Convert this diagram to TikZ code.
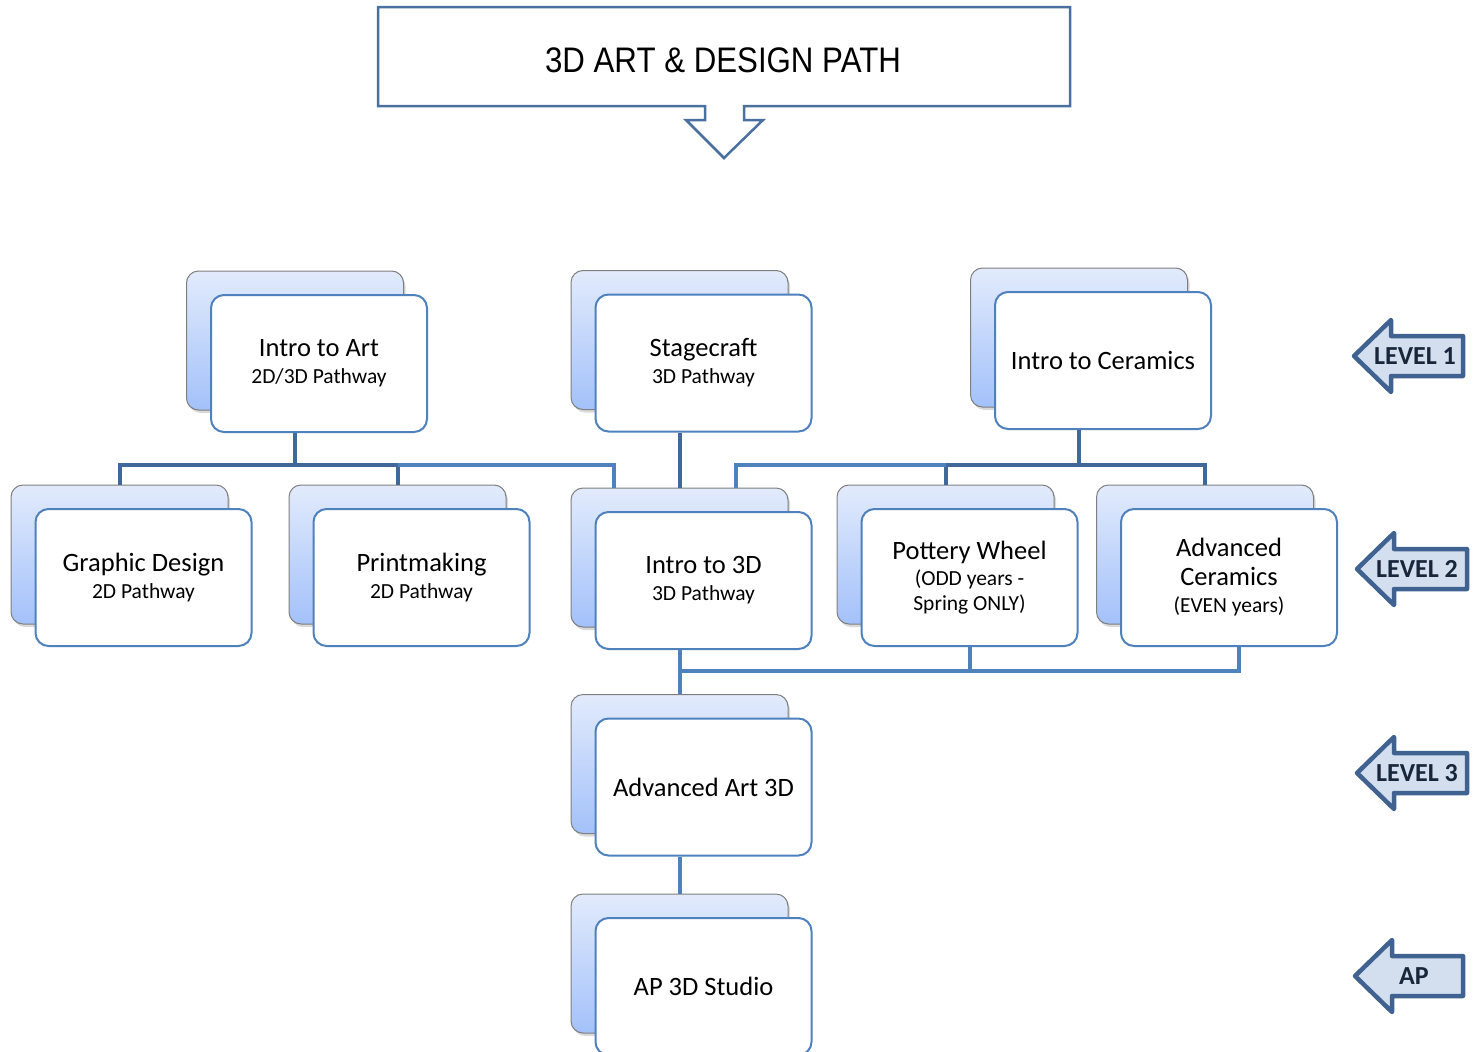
\documentclass[tikz,border=0pt]{standalone}
\usepackage{fontspec}
\setmainfont{Carlito}
\newfontfamily\titlefont[FakeStretch=0.88]{Liberation Sans}
\usetikzlibrary{shadows,calc}

\definecolor{frontline}{HTML}{4F81BD}
\definecolor{darklink}{HTML}{41689A}
\definecolor{lightlink}{HTML}{4F81BD}
\definecolor{backtop}{HTML}{E2EBFC}
\definecolor{backbottom}{HTML}{A3C1FA}
\definecolor{backline}{HTML}{7F7F7F}
\definecolor{tagfill}{HTML}{D3DFEE}
\definecolor{tagline}{HTML}{3F6290}
\definecolor{tagink}{HTML}{17263A}
\definecolor{titleline}{HTML}{4A70A0}

\newcommand\mainsz{\fontsize{26.5}{28}\selectfont}
\newcommand\subsz{\fontsize{21.5}{25}\selectfont}

% a course card: shaded back panel with a white card in front of it
\newcommand\card[4]{%
  \node[backcard] (#1-b) at (#2,#3) {};
  \node[frontcard] (#1) at ($(#1-b)+(24,23)$) {#4};
}
% a level marker: arrow pointing left with a bold label
\newcommand\leveltag[6]{%
  \draw[tagshape] (#2,#3) -- (#2+37,#3-36) -- (#2+37,#3-20) -- (#4,#3-20)
     -- (#4,#3+20) -- (#2+37,#3+20) -- (#2+37,#3+36) -- cycle;
  \node[taglabel] (#1) at (#5,#3) {#6};
}

\begin{document}
\begin{tikzpicture}[x=1pt,y=-1pt,
  backcard/.style={draw=backline, line width=1pt, rounded corners=12pt,
    top color=backtop, bottom color=backbottom,
    minimum width=217pt, minimum height=139pt, inner sep=0pt,
    drop shadow={shadow xshift=2pt, shadow yshift=-3pt, opacity=0.3}},
  frontcard/.style={draw=frontline, line width=2pt, fill=white,
    rounded corners=13pt, minimum width=216pt, minimum height=137pt,
    inner sep=0pt, align=center, font=\mainsz},
  link/.style={draw=darklink, line width=4pt},
  linklight/.style={draw=lightlink, line width=4pt},
  tagshape/.style={draw=tagline, fill=tagfill, line width=4.5pt, line join=round},
  taglabel/.style={font=\fontsize{26}{28}\selectfont\bfseries, text=tagink, inner sep=0pt},
]
\useasboundingbox (0,0) rectangle (1481,1052);

% title banner with its downward arrow
\draw[draw=titleline, line width=2.5pt, fill=white]
  (378,7) -- (1070,7) -- (1070,106) -- (744,106) -- (744,120) -- (763,120)
  -- (724,158) -- (686,120) -- (705,120) -- (705,106) -- (378,106) -- cycle;
\node[font=\titlefont\fontsize{35.5}{40}\selectfont, inner sep=0pt] (title) at (723,60) {3D ART \& DESIGN PATH};

% level 1
\card{art}{295}{340.5}{Intro to Art\\[-1pt]{\subsz 2D/3D Pathway}}
\card{stage}{679.5}{340}{Stagecraft\\[-1pt]{\subsz 3D Pathway}}
\card{ceram}{1079}{337.5}{Intro to Ceramics}

% level 2
\card{graph}{119.5}{554.5}{Graphic Design\\[-1pt]{\subsz 2D Pathway}}
\card{print}{397.5}{554.5}{Printmaking\\[-1pt]{\subsz 2D Pathway}}
\card{intro3d}{679.5}{557.5}{Intro to 3D\\[-1pt]{\subsz 3D Pathway}}
\card{pottery}{945.5}{554.5}{Pottery Wheel\\[-2pt]{\subsz (ODD years -}\\[-3pt]{\subsz Spring ONLY)}}
\card{advcer}{1205}{554.5}{Advanced\\[1pt]Ceramics\\[-1pt]{\subsz (EVEN years)}}

% level 3 and AP
\card{adv3d}{679.5}{764}{Advanced Art 3D}
\card{ap}{679.5}{963.5}{AP 3D Studio}

% connectors
\coordinate (busA) at (0,465);
\coordinate (busB) at (0,671);
\coordinate (feedL) at ($(intro3d-b.north)+(-66,0)$);
\coordinate (feedR) at ($(intro3d-b.north)+(56,0)$);
\coordinate (acdrop) at ($(advcer.south)+(10,0)$);

\draw[link] (art-b.center |- art.south) -- (art-b.center |- busA);
\draw[link] (graph-b.north) -- (graph-b.north |- busA) -- (print-b.north |- busA) -- (print-b.north);
\draw[linklight] (print-b.north |- busA) -- (feedL |- busA) -- (feedL);

\draw[link] (stage-b.center |- stage.south) -- (intro3d-b.north);

\draw[link] (ceram-b.center |- ceram.south) -- (ceram-b.center |- busA);
\draw[link] (pottery-b.north) -- (pottery-b.north |- busA) -- (advcer-b.north |- busA) -- (advcer-b.north);
\draw[linklight] (pottery-b.north |- busA) -- (feedR |- busA) -- (feedR);

\draw[linklight] (intro3d-b.center |- intro3d.south) -- (adv3d-b.north);
\draw[linklight] (pottery.south) -- (pottery.south |- busB);
\draw[linklight] (acdrop) -- (acdrop |- busB) -- (intro3d-b.center |- busB);
\draw[linklight] (adv3d-b.center |- adv3d.south) -- (ap-b.north);

% level markers
\leveltag{lv1}{1354}{356}{1463}{1415}{LEVEL 1}
\leveltag{lv2}{1357}{569}{1467}{1417}{LEVEL 2}
\leveltag{lv3}{1357}{773}{1467}{1417}{LEVEL 3}
\leveltag{lvap}{1355}{976}{1463}{1414}{AP}
\end{tikzpicture}
\end{document}
